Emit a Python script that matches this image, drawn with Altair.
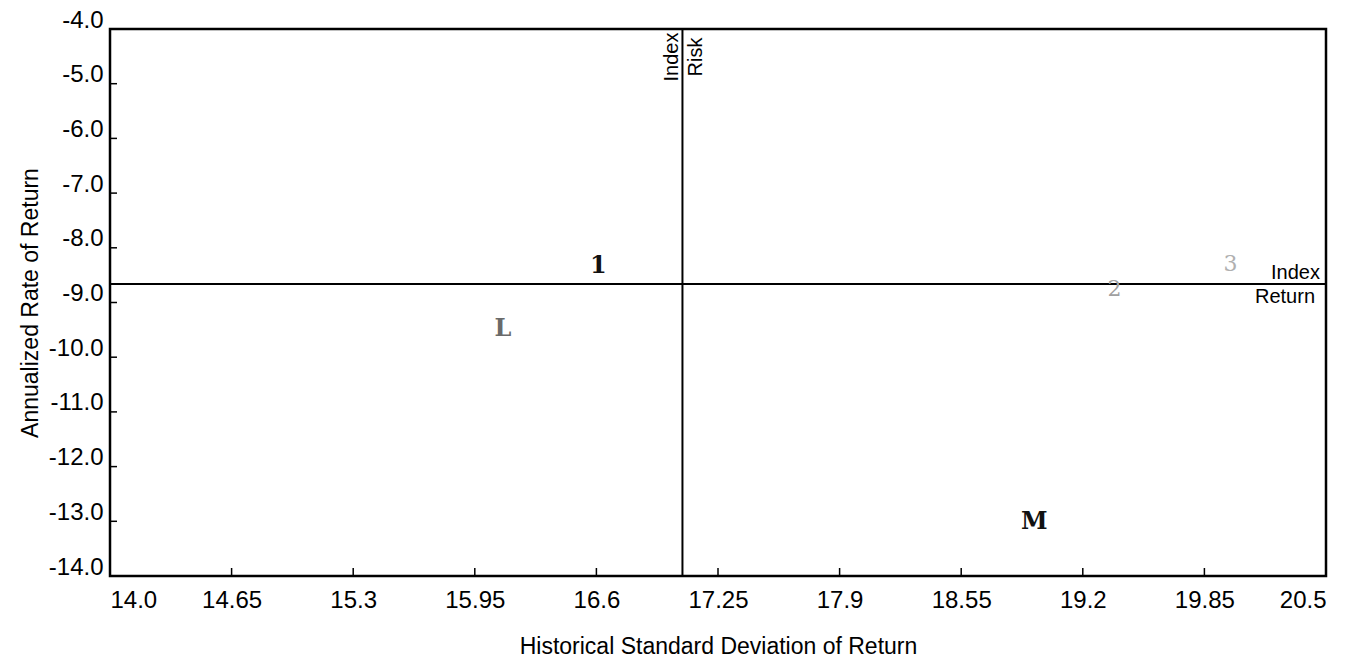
import altair as alt
import pandas as pd

# ---- data ----
x_ticks = [14.0, 14.65, 15.3, 15.95, 16.6, 17.25, 17.9, 18.55, 19.2, 19.85, 20.5]
y_ticks = [-4.0, -5.0, -6.0, -7.0, -8.0, -9.0, -10.0, -11.0, -12.0, -13.0, -14.0]

point_labels = ["1", "2", "3", "L", "M"]
point_risk = [16.61, 19.37, 19.99, 16.10, 18.94]
point_return = [-8.33, -8.75, -8.30, -9.48, -13.01]

index_risk = 17.06
index_return = -8.66

# ---- styles ----
label_colors = ["#111111", "#a0a0a0", "#b0b0b0", "#6a6a6a", "#111111"]
bold_labels = ["1", "L", "M"]
W, H = 1216, 547
FONT = "Liberation Sans"

xs = alt.Scale(domain=[14.0, 20.5], nice=False, zero=False)
ys = alt.Scale(domain=[-14.0, -4.0], nice=False, zero=False)

pts = pd.DataFrame({"label": point_labels, "risk": point_risk, "ret": point_return})
xt = pd.DataFrame({"v": x_ticks})
yt = pd.DataFrame({"v": y_ticks})
ref = pd.DataFrame({"risk": [index_risk], "ret": [index_return]})

base_x_axis = alt.Axis(
    values=x_ticks, ticks=False, domain=False, grid=False,
    labelExpr="replace(format(datum.value, '.2f'), regexp('0$'), '')",
    labelFont=FONT, labelFontSize=24, labelColor="#000", labelPadding=12,
    title="Historical Standard Deviation of Return", titleFont=FONT,
    titleFontSize=23, titleFontWeight="normal", titleColor="#000", titlePadding=23,
)
base_y_axis = alt.Axis(
    values=y_ticks, ticks=False, domain=False, grid=False,
    labelExpr="'-' + format(abs(datum.value), '.1f')",
    labelFont=FONT, labelFontSize=24, labelColor="#000", labelPadding=7,
    labelOffset=-9, labelBaseline="middle",
    title="Annualized Rate of Return", titleFont=FONT, titleFontSize=23,
    titleFontWeight="normal", titleColor="#000", titlePadding=6,
)

# axes carrier (invisible points)
axes = alt.Chart(pts).mark_point(opacity=0).encode(
    x=alt.X("risk:Q", scale=xs, axis=base_x_axis),
    y=alt.Y("ret:Q", scale=ys, axis=base_y_axis),
)

# inward ticks
xtick_marks = alt.Chart(xt).mark_rule(color="#000", strokeWidth=1.5).encode(
    x=alt.X("v:Q", scale=xs), y=alt.value(H), y2=alt.value(H - 8)
)
ytick_marks = alt.Chart(yt).mark_rule(color="#000", strokeWidth=1.5).encode(
    y=alt.Y("v:Q", scale=ys), x=alt.value(0), x2=alt.value(7)
)

# index lines
vline = alt.Chart(ref).mark_rule(color="#000", strokeWidth=2).encode(
    x=alt.X("risk:Q", scale=xs)
)
hline = alt.Chart(ref).mark_rule(color="#000", strokeWidth=2).encode(
    y=alt.Y("ret:Q", scale=ys)
)

# index labels
idx_txt = alt.Chart(ref).mark_text(
    text="Index", font=FONT, fontSize=20, align="right", baseline="middle",
    dx=-6, dy=-11, color="#000"
).encode(x=alt.value(W), y=alt.Y("ret:Q", scale=ys))
ret_txt = alt.Chart(ref).mark_text(
    text="Return", font=FONT, fontSize=20, align="right", baseline="middle",
    dx=-11, dy=13, color="#000"
).encode(x=alt.value(W), y=alt.Y("ret:Q", scale=ys))
idxv_txt = alt.Chart(ref).mark_text(
    text="Index", font=FONT, fontSize=20, align="center", baseline="alphabetic",
    angle=270, dx=-28, dy=-4, color="#000"
).encode(x=alt.X("risk:Q", scale=xs), y=alt.value(0))
risk_txt = alt.Chart(ref).mark_text(
    text="Risk", font=FONT, fontSize=20, align="center", baseline="alphabetic",
    angle=270, dx=-28, dy=20, color="#000"
).encode(x=alt.X("risk:Q", scale=xs), y=alt.value(0))

color_enc = alt.Color("label:N", scale=alt.Scale(domain=point_labels, range=label_colors), legend=None)

# point labels
pt_bold = alt.Chart(pts).transform_filter(
    alt.FieldOneOfPredicate(field="label", oneOf=bold_labels)
).mark_text(
    font="DejaVu Serif", fontSize=24, fontWeight="bold",
    align="center", baseline="middle"
).encode(
    x=alt.X("risk:Q", scale=xs), y=alt.Y("ret:Q", scale=ys),
    text="label:N", color=color_enc,
)
pt_light = alt.Chart(pts).transform_filter(
    ~alt.FieldOneOfPredicate(field="label", oneOf=bold_labels)
).mark_text(
    font="DejaVu Serif", fontSize=22, fontWeight="normal",
    align="center", baseline="middle"
).encode(
    x=alt.X("risk:Q", scale=xs), y=alt.Y("ret:Q", scale=ys),
    text="label:N", color=color_enc,
)

chart = alt.layer(
    axes, xtick_marks, ytick_marks, vline, hline,
    idx_txt, ret_txt, idxv_txt, risk_txt, pt_bold, pt_light
).properties(
    width=W, height=H,
    autosize=alt.AutoSizeParams(type="none"),
    padding={"left": 110, "top": 29, "right": 31, "bottom": 84},
    background="white",
).configure_view(stroke="#000", strokeWidth=2.5)

chart.save("out.html", embed_options={"renderer": "svg", "actions": False})
